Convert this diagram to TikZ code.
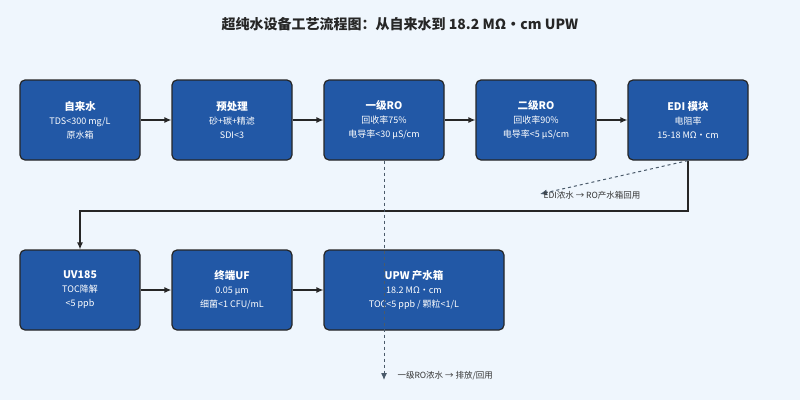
\documentclass[tikz,border=0pt]{standalone}
\usepackage{fontspec}
\setmainfont{Noto Sans CJK SC}
\usetikzlibrary{arrows.meta}
\definecolor{bg}{HTML}{EFF6FD}
\definecolor{boxc}{HTML}{2258A6}
\definecolor{dash}{HTML}{4A5A6A}
\begin{document}
\begin{tikzpicture}[x=1pt,y=-1pt,
 box/.style={draw=black!85,line width=1.2pt,fill=boxc,rounded corners=5pt,text=white,align=center,font=\fontsize{9}{14}\selectfont,inner sep=0pt},
 arr/.style={-{Latex[length=7pt,width=6pt]},line width=1.2pt,draw=black!85},
 darr/.style={-{Latex[length=7pt,width=6pt]},dashed,line width=1pt,draw=dash},
 lbl/.style={font=\fontsize{8.5}{10}\selectfont,text=black!80}]
\fill[bg] (0,0) rectangle (800,400);
\useasboundingbox (0,0) rectangle (800,400);
\node[font=\bfseries\fontsize{14}{16}\selectfont,text=black!85] (title) at (400,24) {超纯水设备工艺流程图：从自来水到 18.2 MΩ・cm UPW};
\newcommand{\bx}[5]{\node[box,minimum width=#4pt,minimum height=80pt] (#1) at (#2,#3) {#5};}
\bx{a}{80}{120}{120}{{\bfseries\fontsize{10.5}{16}\selectfont 自来水}\\TDS<300 mg/L\\原水箱}
\bx{b}{232}{120}{120}{{\bfseries\fontsize{10.5}{16}\selectfont 预处理}\\砂+碳+精滤\\SDI<3}
\bx{c}{384}{120}{120}{{\bfseries\fontsize{10.5}{16}\selectfont 一级RO}\\回收率75\%\\电导率<30 μS/cm}
\bx{d}{536}{120}{120}{{\bfseries\fontsize{10.5}{16}\selectfont 二级RO}\\回收率90\%\\电导率<5 μS/cm}
\bx{e}{688}{120}{120}{{\bfseries\fontsize{10.5}{16}\selectfont EDI 模块}\\电阻率\\15-18 MΩ·cm}
\bx{f}{80}{290}{120}{{\bfseries\fontsize{10.5}{16}\selectfont UV185}\\TOC降解\\<5 ppb}
\bx{g}{232}{290}{120}{{\bfseries\fontsize{10.5}{16}\selectfont 终端UF}\\0.05 μm\\细菌<1 CFU/mL}
\bx{h}{414}{290}{180}{{\bfseries\fontsize{10.5}{16}\selectfont UPW 产水箱}\\18.2 MΩ·cm\\TOC<5 ppb / 颗粒<1/L}
\draw[arr] (a) -- (b); \draw[arr] (b) -- (c); \draw[arr] (c) -- (d); \draw[arr] (d) -- (e);
\draw[arr] (f) -- (g); \draw[arr] (g) -- (h);
\draw[arr] (e.south) -- (688,211) -- (80,211) -- (f.north);
\coordinate (r1) at (384,380);
\coordinate (r2) at (540,194);
\draw[darr] (c.south) -- (r1);
\draw[darr] (e.south) -- (r2);
\node[lbl,anchor=west] (l1) at (394,376) {一级RO浓水 → 排放/回用};
\node[lbl,anchor=west] (l2) at (540,195) {EDI浓水 → RO产水箱回用};
\end{tikzpicture}
\end{document}
